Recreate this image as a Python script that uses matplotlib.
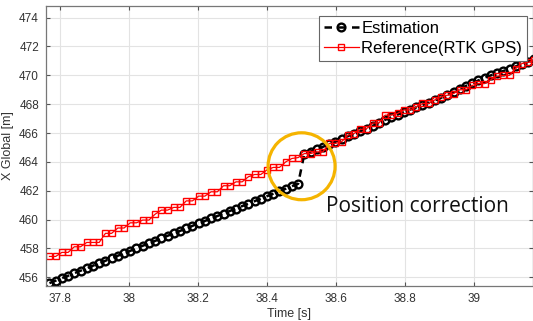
import matplotlib.pyplot as plt
from matplotlib.patches import Ellipse

# temps des échantillons (s)
time_s = [37.770, 37.788, 37.806, 37.824, 37.842, 37.860, 37.878, 37.896, 37.914, 37.932,
          37.950, 37.968, 37.986, 38.004, 38.022, 38.040, 38.058, 38.076, 38.094, 38.112,
          38.130, 38.148, 38.166, 38.184, 38.202, 38.220, 38.238, 38.256, 38.274, 38.292,
          38.310, 38.328, 38.346, 38.364, 38.382, 38.400, 38.418, 38.436, 38.454, 38.472,
          38.490, 38.508, 38.526, 38.544, 38.562, 38.580, 38.598, 38.616, 38.634, 38.652,
          38.670, 38.688, 38.706, 38.724, 38.742, 38.760, 38.778, 38.796, 38.814, 38.832,
          38.850, 38.868, 38.886, 38.904, 38.922, 38.940, 38.958, 38.976, 38.994, 39.012,
          39.030, 39.048, 39.066, 39.084, 39.102, 39.120, 39.138, 39.156, 39.174]

# position estimée (m)
estimation = [455.60, 455.77, 455.95, 456.11, 456.29, 456.46, 456.63, 456.81, 456.98, 457.15,
              457.33, 457.50, 457.67, 457.84, 458.02, 458.19, 458.36, 458.53, 458.70, 458.88,
              459.05, 459.22, 459.39, 459.57, 459.74, 459.91, 460.08, 460.25, 460.42, 460.60,
              460.77, 460.94, 461.11, 461.28, 461.46, 461.63, 461.80, 461.97, 462.14, 462.32,
              462.49, 464.55, 464.72, 464.88, 465.05, 465.23, 465.40, 465.60, 465.79, 465.97,
              466.13, 466.30, 466.50, 466.70, 466.92, 467.10, 467.28, 467.45, 467.62, 467.78,
              467.94, 468.10, 468.27, 468.45, 468.64, 468.83, 469.08, 469.27, 469.46, 469.65,
              469.84, 470.00, 470.15, 470.30, 470.45, 470.62, 470.78, 470.95, 471.12]

# position de référence RTK GPS (m)
reference = [457.45, 457.45, 457.73, 457.73, 458.12, 458.12, 458.42, 458.42, 458.42, 459.05,
             459.05, 459.42, 459.42, 459.78, 459.78, 459.97, 459.97, 460.38, 460.66, 460.66,
             460.85, 460.85, 461.30, 461.30, 461.63, 461.63, 461.93, 461.93, 462.35, 462.35,
             462.62, 462.62, 462.97, 463.13, 463.13, 463.45, 463.62, 463.62, 464.00, 464.24,
             464.30, 464.58, 464.58, 464.70, 464.70, 465.28, 465.28, 465.40, 465.85, 465.97,
             466.25, 466.30, 466.70, 466.70, 467.24, 467.24, 467.36, 467.60, 467.60, 467.80,
             468.05, 468.05, 468.30, 468.50, 468.62, 468.74, 469.00, 469.00, 469.30, 469.43,
             469.43, 469.70, 469.94, 470.00, 470.00, 470.47, 470.82, 470.90, 471.05]

x_ticks = [37.8, 38, 38.2, 38.4, 38.6, 38.8, 39]
x_tick_labels = ['37.8', '38', '38.2', '38.4', '38.6', '38.8', '39']
y_ticks = [456, 458, 460, 462, 464, 466, 468, 470, 472, 474]

plt.rcParams['font.family'] = ['Liberation Sans', 'DejaVu Sans']

fig = plt.figure(figsize=(5.33, 3.21), dpi=100)
ax = fig.add_axes([0.0863, 0.109, 0.9137, 0.872])

ax.plot(time_s, estimation, '--o', color='black', lw=1.8, ms=5.6, mew=1.7,
        mfc='none', dashes=(3, 2.5), label='Estimation')
ax.plot(time_s, reference, '-s', color='#ff0000', lw=0.9, ms=5.0, mew=1.0,
        mfc='none', label='Reference(RTK GPS)')

# cercle jaune autour de la correction
ax.add_patch(Ellipse((38.50, 463.7), 0.194, 4.64, fill=False,
                     edgecolor='#f5b400', lw=2.3, zorder=5))
ax.text(38.57, 460.9, 'Position correction', fontsize=15, va='center', ha='left',
        family=['Open Sans', 'DejaVu Sans'], color='#111111')

ax.set_xlim(37.76, 39.17)
ax.set_ylim(455.4, 474.8)
ax.set_xticks(x_ticks)
ax.set_xticklabels(x_tick_labels)
ax.set_yticks(y_ticks)
ax.grid(True, color='#e3e3e3', lw=0.8)
ax.set_axisbelow(True)
ax.tick_params(direction='in', length=3, width=0.8, top=True, right=True,
               labelsize=8.5, colors='#555555', labelcolor='#333333', pad=5)
for s in ax.spines.values():
    s.set_color('#777777')
    s.set_linewidth(0.9)

ax.set_xlabel('Time [s]', fontsize=9, color='#333333', labelpad=2)
ax.set_ylabel('X Global [m]', fontsize=9, color='#333333', labelpad=4)

leg = ax.legend(loc='upper right', bbox_to_anchor=(0.988, 0.966), fontsize=12,
                fancybox=False, framealpha=1, edgecolor='#666666',
                handlelength=2.1, handletextpad=0.15, borderpad=0.3,
                labelspacing=0.3, borderaxespad=0)
leg.get_frame().set_linewidth(0.8)

plt.savefig('out.png', dpi=100)
